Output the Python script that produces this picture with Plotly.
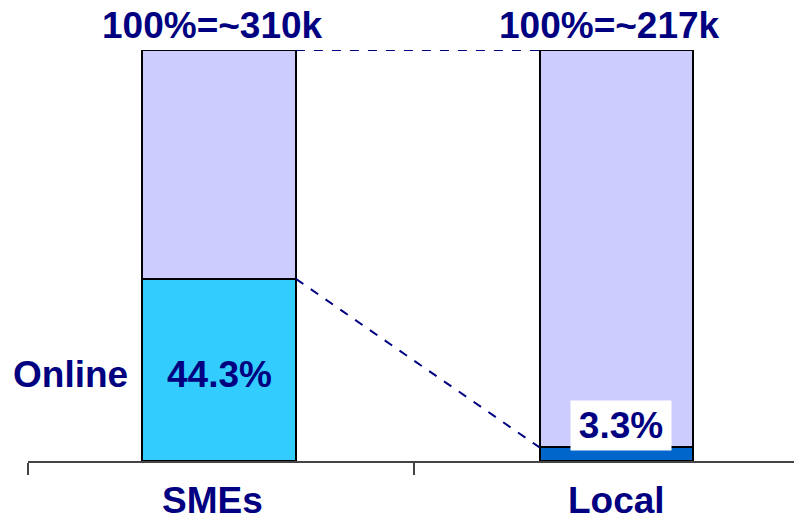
import plotly.graph_objects as go

# Share of businesses that are online, SMEs vs local businesses
categories = ["SMEs", "Local"]
online_share = [44.3, 3.3]
totals = ["~310k", "~217k"]
segment_label = "Online"

NAVY = "#000080"
FONT = "Liberation Sans, Arial, sans-serif"
BAR_W = 0.387
xpos = list(range(len(categories)))
rest_share = [100 - v for v in online_share]

fig = go.Figure()
fig.add_trace(go.Bar(
    x=xpos, y=online_share, width=BAR_W,
    marker=dict(color=["#33CCFF", "#0066CC"], line=dict(color="black", width=2)),
    hoverinfo="skip",
))
fig.add_trace(go.Bar(
    x=xpos, y=rest_share, width=BAR_W,
    marker=dict(color="#CCCCFF", line=dict(color="black", width=2)),
    hoverinfo="skip",
))

annotations = []
for i, (cat, tot, val) in enumerate(zip(categories, totals, online_share)):
    # total above each bar
    annotations.append(dict(x=i, y=1, xref="x", yref="paper", text=f"<b>100%={tot}</b>",
                            showarrow=False, yanchor="middle", yshift=25, xshift=-7,
                            font=dict(family=FONT, size=37, color=NAVY)))
    # category name below axis
    annotations.append(dict(x=i, y=0, xref="x", yref="paper", text=f"<b>{cat}</b>",
                            showarrow=False, yanchor="top", yshift=-18, height=40,
                            borderpad=0, xshift=-7 if i == 0 else 0,
                            font=dict(family=FONT, size=37, color=NAVY)))

# value labels for the online segment
annotations.append(dict(x=0, y=online_share[0] / 2, xref="x", yref="y",
                        text=f"<b>{online_share[0]}%</b>", showarrow=False, yshift=-5,
                        font=dict(family=FONT, size=37, color=NAVY)))
annotations.append(dict(x=1, y=online_share[1], xref="x", yref="y",
                        text=f"<b>{online_share[1]}%</b>", showarrow=False, yanchor="bottom",
                        yshift=-4, xshift=4, bgcolor="white", borderpad=0,
                        width=100, height=49,
                        font=dict(family=FONT, size=37, color=NAVY)))
annotations.append(dict(x=-BAR_W / 2, y=online_share[0] / 2, xref="x", yref="y",
                        text=f"<b>{segment_label}</b>", showarrow=False, xanchor="right",
                        xshift=-12, yshift=-5,
                        font=dict(family=FONT, size=37, color=NAVY)))

# dashed connectors between the bars
shapes = [
    dict(type="line", x0=BAR_W / 2, x1=1 - BAR_W / 2, y0=100, y1=100, xref="x", yref="y",
         line=dict(color=NAVY, width=2, dash="dash")),
    dict(type="line", x0=BAR_W / 2, x1=1 - BAR_W / 2, y0=online_share[0], y1=online_share[1],
         xref="x", yref="y", line=dict(color=NAVY, width=2, dash="dash")),
]

fig.update_layout(
    barmode="stack",
    width=794, height=522,
    margin=dict(l=28, r=0, t=50, b=61),
    paper_bgcolor="white", plot_bgcolor="white",
    showlegend=False,
    annotations=annotations,
    shapes=shapes,
    xaxis=dict(range=[-0.4805, 1.4465], showgrid=False, zeroline=False,
               showline=True, linecolor="#444444", linewidth=1.5,
               ticks="outside", ticklen=12, tickcolor="#444444", tickwidth=1.5,
               tickvals=[-0.48, 0.49], showticklabels=False),
    yaxis=dict(range=[0, 100], visible=False),
)

fig.write_html("out.html")
